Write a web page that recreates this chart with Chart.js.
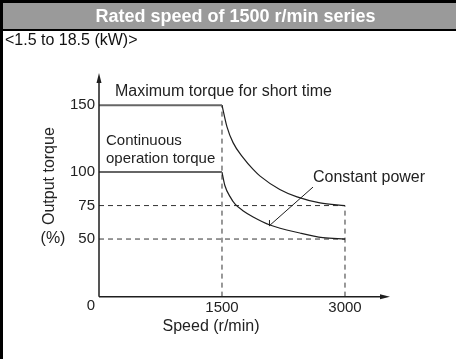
<!DOCTYPE html>
<html>
<head>
<meta charset="utf-8">
<title>Rated speed of 1500 r/min series</title>
<script src="https://cdn.jsdelivr.net/npm/chart.js@4.4.1/dist/chart.umd.min.js"></script>
<style>
  body { margin: 0; background: #fff; }
  #wrap { position: relative; width: 456px; height: 359px; overflow: hidden; font-family: "Liberation Sans", Arial, sans-serif; }
  #wrap canvas { position: absolute; left: 0; top: 0; }
  .frame { position: absolute; left: 0; top: 0; width: 453px; height: 356px; border-left: 3px solid #000; border-top: 3px solid #000; }
  .head { position: absolute; left: 3px; top: 3px; right: 0; height: 26px; background: #9a9a9a; border-bottom: 2px solid #000;
          color: #fff; font-weight: bold; font-size: 18px; line-height: 26px; text-align: center; padding-left: 12px; }
  .sub { position: absolute; left: 5px; top: 31px; font-size: 16px; line-height: 18px; color: #111; }
</style>
</head>
<body>
<div id="wrap">
  <canvas id="torqueChart" width="456" height="359"></canvas>
  <div class="frame"></div>
  <div class="head">Rated speed of 1500 r/min series</div>
  <div class="sub">&lt;1.5 to 18.5 (kW)&gt;</div>
</div>
<script>
// Tick positions
const speedTicks = [1500, 3000];
const torqueTicks = [0, 50, 75, 100, 150];

// Maximum torque for short time (flat to rated speed, then constant power)
const peakSpeed = [1500, 1560, 1635, 1755, 1880, 1965, 2205, 2415, 2695, 3000];
const peakTorque = [150, 134, 122, 111, 102, 97, 87, 81.5, 77, 75];

// Continuous operation torque
const contSpeed = [1500, 1535, 1600, 1660, 1760, 1880, 2085, 2450, 2730, 3000];
const contTorque = [100, 90, 81.5, 76, 71, 66.5, 60.5, 54.5, 51, 50];

// where the speed axis is drawn on the torque scale
const axisCross = 7;

const ink = '#1e1e1e';
const labelFont = { family: '"Liberation Sans", Arial, sans-serif', size: 15 };

const toPoints = (xs, ys) => xs.map((v, i) => ({ x: v, y: ys[i] }));
const lastIdx = peakSpeed.length - 1;
const ratedSpeed = peakSpeed[0];
const topSpeed = peakSpeed[lastIdx];

const dashed = { borderColor: '#333', borderWidth: 1, borderDash: [5, 4], pointRadius: 0, fill: false };
const flat = { borderColor: '#666', borderWidth: 2, pointRadius: 0, fill: false };
const curve = { borderColor: ink, borderWidth: 1.2, pointRadius: 0, fill: false, cubicInterpolationMode: 'monotone' };

const datasets = [
  { ...flat, data: [{ x: 0, y: peakTorque[0] }, { x: ratedSpeed, y: peakTorque[0] }] },
  { ...curve, data: toPoints(peakSpeed, peakTorque) },
  { ...flat, data: [{ x: 0, y: contTorque[0] }, { x: contSpeed[0], y: contTorque[0] }] },
  { ...curve, data: toPoints(contSpeed, contTorque) },
  { ...dashed, data: [{ x: ratedSpeed, y: axisCross }, { x: ratedSpeed, y: peakTorque[0] }] },
  { ...dashed, data: [{ x: topSpeed, y: axisCross }, { x: topSpeed, y: peakTorque[lastIdx] }] },
  { ...dashed, data: [{ x: 0, y: peakTorque[lastIdx] }, { x: topSpeed, y: peakTorque[lastIdx] }] },
  { ...dashed, data: [{ x: 0, y: contTorque[contTorque.length - 1] }, { x: topSpeed, y: contTorque[contTorque.length - 1] }] }
];

// axes with arrow heads, captions and the leader line
const axesAndNotes = {
  id: 'axesAndNotes',
  afterDraw(chart) {
    const { ctx, chartArea, scales: { x, y } } = chart;
    const x0 = x.getPixelForValue(0);
    const yAxis = y.getPixelForValue(axisCross);
    const xEnd = chartArea.right;
    const yEnd = chartArea.top;

    ctx.save();
    ctx.strokeStyle = ink;
    ctx.fillStyle = ink;
    ctx.lineWidth = 1.5;
    ctx.beginPath();
    ctx.moveTo(x0, yAxis);
    ctx.lineTo(x0, yEnd + 6);
    ctx.moveTo(x0, yAxis);
    ctx.lineTo(xEnd - 6, yAxis);
    ctx.stroke();

    ctx.beginPath();
    ctx.moveTo(x0, yEnd);
    ctx.lineTo(x0 - 2.5, yEnd + 10);
    ctx.lineTo(x0 + 2.5, yEnd + 10);
    ctx.closePath();
    ctx.fill();
    ctx.beginPath();
    ctx.moveTo(xEnd, yAxis);
    ctx.lineTo(xEnd - 10, yAxis - 2.5);
    ctx.lineTo(xEnd - 10, yAxis + 2.5);
    ctx.closePath();
    ctx.fill();

    // leader from "Constant power" down to the curves
    const lx1 = x.getPixelForValue(2610), ly1 = y.getPixelForValue(88.8);
    const lx2 = x.getPixelForValue(2073), ly2 = y.getPixelForValue(59.7);
    ctx.lineWidth = 1;
    ctx.beginPath();
    ctx.moveTo(lx1, ly1);
    ctx.lineTo(lx2, ly2);
    ctx.moveTo(lx2 + 0.5, ly2);
    ctx.lineTo(lx2 + 0.5, ly2 - 6);
    ctx.stroke();

    const family = '"Liberation Sans", Arial, sans-serif';
    ctx.fillStyle = '#222';
    ctx.textBaseline = 'middle';
    ctx.textAlign = 'left';
    ctx.font = '16px ' + family;
    ctx.fillText('Maximum torque for short time', x.getPixelForValue(195), y.getPixelForValue(160));
    ctx.fillText('Constant power', x.getPixelForValue(2610), y.getPixelForValue(96));
    ctx.font = '15px ' + family;
    ctx.fillText('Continuous', x.getPixelForValue(85), y.getPixelForValue(123));
    ctx.fillText('operation torque', x.getPixelForValue(85), y.getPixelForValue(110));

    ctx.font = '16px ' + family;
    ctx.textAlign = 'center';
    ctx.fillText('Speed (r/min)', x.getPixelForValue(1366), yAxis + 30);
    ctx.fillText('(%)', x0 - 46, y.getPixelForValue(50));

    ctx.translate(x0 - 49, y.getPixelForValue(97));
    ctx.rotate(-Math.PI / 2);
    ctx.fillText('Output torque', 0, 0);
    ctx.restore();
  }
};

const ctx = document.getElementById('torqueChart').getContext('2d');
new Chart(ctx, {
  type: 'line',
  data: { datasets: datasets },
  options: {
    responsive: false,
    animation: false,
    layout: { padding: { top: 73, right: 66, bottom: 53, left: 0 } },
    plugins: { legend: { display: false }, tooltip: { enabled: false } },
    scales: {
      x: {
        type: 'linear',
        min: 0,
        max: 3549,
        position: { y: axisCross },
        grid: { display: false, drawTicks: false },
        border: { display: false },
        ticks: { font: labelFont, color: '#222', padding: 2, maxRotation: 0, callback: (v) => String(v) },
        afterBuildTicks: (scale) => { scale.ticks = speedTicks.map(v => ({ value: v })); }
      },
      y: {
        type: 'linear',
        min: 0,
        max: 174,
        grid: { display: false, drawTicks: false },
        border: { display: false },
        ticks: { font: labelFont, color: '#222', padding: 4, callback: (v) => String(v) },
        afterBuildTicks: (scale) => { scale.ticks = torqueTicks.map(v => ({ value: v })); },
        afterFit: (scale) => { scale.width = 99; }
      }
    }
  },
  plugins: [axesAndNotes]
});
</script>
</body>
</html>
